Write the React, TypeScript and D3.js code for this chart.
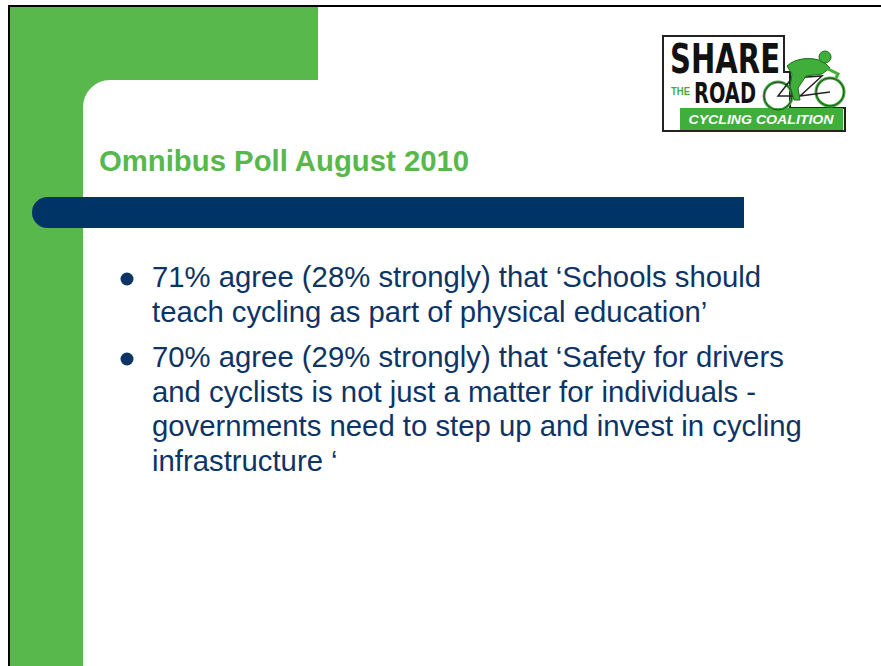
import React from "react";
import * as d3 from "d3";

const W = 881;
const H = 666;

const title = "Omnibus Poll August 2010";
const bulletLines: string[][] = [
  [
    "71% agree (28% strongly) that \u2018Schools should",
    "teach cycling as part of physical education\u2019",
  ],
  [
    "70% agree (29% strongly) that \u2018Safety for drivers",
    "and cyclists is not just a matter for individuals -",
    "governments need to step up and invest in cycling",
    "infrastructure \u2018",
  ],
];
const bulletBaselines = [287, 367];
const lineHeight = 34.7;

const GREEN = "#58b84b";
const NAVY = "#003366";
const TEXT = "#0d3465";

function greenShape(): string {
  const p = d3.path();
  const r = 27;
  p.moveTo(10, 7);
  p.lineTo(318, 7);
  p.lineTo(318, 80);
  p.lineTo(83 + r, 80);
  p.arcTo(83, 80, 83, 80 + r, r);
  p.lineTo(83, H);
  p.lineTo(10, H);
  p.closePath();
  return p.toString();
}

function navyBar(): string {
  const p = d3.path();
  const y0 = 197, y1 = 228, r = (y1 - y0) / 2;
  p.moveTo(32 + r, y0);
  p.lineTo(744, y0);
  p.lineTo(744, y1);
  p.lineTo(32 + r, y1);
  p.arc(32 + r, y0 + r, r, Math.PI / 2, (3 * Math.PI) / 2);
  p.closePath();
  return p.toString();
}

function Logo() {
  const riderGreen = "#3fae3a";
  return (
    <g>
      {/* outer black outline */}
      <path
        d="M663,36 L784,36 L784,72 L790,72 L790,108 L845,108 L845,131 L663,131 Z"
        fill="#fff"
        stroke="#222"
        strokeWidth={2}
      />
      <g transform="translate(670,73) scale(1,1.12)">
        <text
          x={0}
          y={0}
          fontFamily="'Liberation Sans Narrow', 'DejaVu Sans Condensed', Arial, sans-serif"
          fontWeight="bold"
          fontSize={37}
          textLength={110}
          lengthAdjust="spacingAndGlyphs"
          fill="#111"
        >
          SHARE
        </text>
      </g>
      <text
        x={671}
        y={95}
        fontFamily="'Liberation Sans Narrow', Arial, sans-serif"
        fontWeight="bold"
        fontSize={11}
        textLength={19}
        lengthAdjust="spacingAndGlyphs"
        fill={riderGreen}
      >
        THE
      </text>
      <g transform="translate(694,103) scale(1,1.12)">
        <text
          x={0}
          y={0}
          fontFamily="'Liberation Sans Narrow', 'DejaVu Sans Condensed', Arial, sans-serif"
          fontWeight="bold"
          fontSize={25}
          textLength={62}
          lengthAdjust="spacingAndGlyphs"
          fill="#111"
        >
          ROAD
        </text>
      </g>
      {/* green banner */}
      <rect x={680} y={108} width={163} height={22} fill={riderGreen} />
      <text
        x={761}
        y={124}
        textAnchor="middle"
        fontFamily="Arial, 'Liberation Sans', sans-serif"
        fontWeight="bold"
        fontStyle="italic"
        fontSize={12}
        textLength={145}
        lengthAdjust="spacingAndGlyphs"
        fill="#fff"
      >
        CYCLING COALITION
      </text>
      {/* bicycle */}
      <circle cx={778} cy={96} r={14} fill="none" stroke={riderGreen} strokeWidth={3} />
      <circle cx={830} cy={92} r={14} fill="none" stroke={riderGreen} strokeWidth={3} />
      <circle cx={778} cy={96} r={14} fill="none" stroke="#222" strokeWidth={0.8} />
      <circle cx={830} cy={92} r={14} fill="none" stroke="#222" strokeWidth={0.8} />
      <path d="M778,96 L800,96 L822,76 L792,78 Z M800,96 L830,92" fill="none" stroke="#222" strokeWidth={1.5} />
      {/* rider */}
      <path
        d="M787,66 C795,58 812,56 824,62 L830,68 L822,74 L806,76 L798,88 L800,100 L794,100 L790,86 L792,74 Z"
        fill={riderGreen}
        stroke="#1e6b1a"
        strokeWidth={1}
      />
      <circle cx={825} cy={57} r={6} fill={riderGreen} stroke="#1e6b1a" strokeWidth={1} />
      <path d="M822,66 L838,74 L836,78" fill="none" stroke={riderGreen} strokeWidth={3} />
    </g>
  );
}

export default function App() {
  return (
    <svg
      width={W}
      height={H}
      viewBox={`0 0 ${W} ${H}`}
      style={{ position: "absolute", left: 0, top: 0, display: "block", background: "#fff" }}
    >
      <rect x={0} y={0} width={W} height={H} fill="#fff" />
      <path d={greenShape()} fill={GREEN} />
      {/* black frame */}
      <line x1={8} y1={6} x2={W} y2={6} stroke="#000" strokeWidth={2} />
      <line x1={9} y1={5} x2={9} y2={H} stroke="#000" strokeWidth={2} />
      <path d={navyBar()} fill={NAVY} />
      <text
        x={99}
        y={171}
        fontFamily="Arial, 'Liberation Sans', sans-serif"
        fontWeight="bold"
        fontSize={29.3}
        fill={GREEN}
      >
        {title}
      </text>
      {bulletLines.map((lines, bi) => (
        <g key={bi}>
          <circle cx={127} cy={bulletBaselines[bi] - 8} r={6.5} fill={TEXT} />
          {lines.map((ln, li) => (
            <text
              key={li}
              x={152}
              y={bulletBaselines[bi] + li * lineHeight}
              fontFamily="Arial, 'Liberation Sans', sans-serif"
              fontSize={29.3}
              fill={TEXT}
            >
              {ln}
            </text>
          ))}
        </g>
      ))}
      <Logo />
    </svg>
  );
}
